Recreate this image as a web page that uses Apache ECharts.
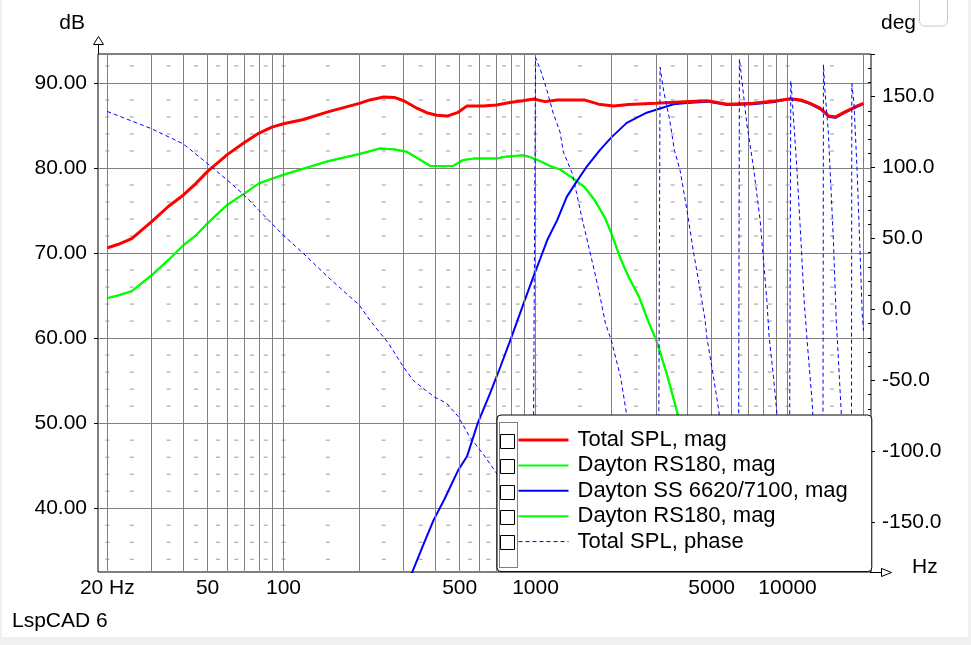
<!DOCTYPE html>
<html>
<head>
<meta charset="utf-8">
<script src="https://cdn.jsdelivr.net/npm/echarts@6/dist/echarts.min.js"></script>
<style>
html, body { margin: 0; padding: 0; background: #ffffff; }
#chart { width: 971px; height: 645px; }
</style>
</head>
<body>
<div id="chart"></div>
<script>
var totalSplMag = [
    [20, 70.6], [22, 71.0], [25, 71.7], [30, 73.7], [35, 75.5], [40, 76.8], [45, 78.2], [50, 79.6],
    [60, 81.6], [70, 83.0], [80, 84.1], [90, 84.8], [100, 85.2], [120, 85.7], [150, 86.6], [200, 87.6],
    [220, 88.0], [250, 88.35], [275, 88.3], [300, 87.9], [340, 87.0], [370, 86.5], [405, 86.2], [445, 86.1], [490, 86.5],
    [535, 87.3], [620, 87.3], [700, 87.4], [790, 87.7], [890, 87.9], [985, 88.1], [1090, 87.8], [1220, 88.0],
    [1400, 88.0], [1560, 88.0], [1780, 87.5], [2040, 87.3], [2340, 87.45], [3010, 87.6], [3900, 87.8],
    [4800, 87.9], [5770, 87.5], [7290, 87.6], [9060, 87.9], [10240, 88.15], [11300, 88.0], [12300, 87.6],
    [13500, 87.0], [14600, 86.1], [15500, 86.0], [16900, 86.6], [18600, 87.2], [20000, 87.6]
];
var rs180Mag = [
    [20, 64.7], [22, 65.0], [25, 65.5], [30, 67.4], [35, 69.2], [40, 70.9], [45, 72.1], [50, 73.5],
    [60, 75.7], [70, 77.0], [80, 78.2], [100, 79.2], [150, 80.8], [200, 81.65], [241, 82.3], [273, 82.2],
    [309, 81.9], [349, 80.95], [382, 80.25], [433, 80.2], [471, 80.25], [517, 80.95], [566, 81.1],
    [700, 81.1], [744, 81.3], [893, 81.5], [948, 81.3], [1043, 80.8], [1148, 80.2], [1256, 79.8],
    [1418, 78.7], [1560, 77.8], [1718, 76.2], [1890, 74.1], [2000, 72.3], [2170, 69.4], [2340, 67.2],
    [2570, 64.9], [2820, 61.75], [3010, 59.8], [3310, 55.9], [3640, 51.4], [4000, 47.0], [4500, 41.0]
];
var ss6620Mag = [
    [300, 30.0], [327, 32.75], [360, 35.8], [394, 38.6], [434, 41.0], [494, 44.5], [535, 46.1],
    [590, 50.0], [660, 53.5], [725, 56.6], [800, 60.0], [900, 64.2], [980, 67.2], [1043, 69.3],
    [1112, 71.5], [1220, 73.9], [1330, 76.6], [1456, 78.4], [1600, 80.2], [1800, 82.1], [2000, 83.6],
    [2300, 85.3], [2760, 86.5], [3120, 87.0], [3530, 87.5], [3990, 87.65], [4800, 87.8], [5770, 87.4],
    [7290, 87.5], [9060, 87.8], [10240, 88.1], [11300, 87.9], [12300, 87.5], [13500, 86.9],
    [14600, 86.0], [15500, 85.9], [16900, 86.5], [18600, 87.1], [20000, 87.5]
];
var totalSplPhase = [
    [20, 139.5], [30, 127.3], [40, 116.7], [50, 102.7], [60, 91.0], [70, 80.4], [80, 69.8], [90, 60.5],
    [100, 52.2], [120, 39.4], [150, 22.9], [200, 3.0], [220, -7.5], [261, -23.9], [299, -40.4],
    [326, -49.7], [358, -55.6], [399, -61.9], [444, -66.1], [494, -75.5], [547, -89.6], [616, -101.3],
    [700, -115.3], [800, -135], [900, -160], [975, -183],
    [1000, 177.6], [1050, 168], [1112, 154], [1172, 139], [1251, 125], [1290, 111], [1400, 95.6],
    [1457, 81.6], [1525, 65.1], [1650, 39.4], [1780, 14], [1894, -9.8], [2000, -22], [2174, -47.4],
    [2300, -74.3], [2500, -110], [2800, -150], [3070, -183],
    [3120, 170.6], [3224, 154], [3410, 133], [3560, 112], [3746, 98], [3990, 70], [4220, 42],
    [4500, 13.6], [4708, -7.5], [4780, -19.3], [5082, -47.4], [5330, -70.8], [5700, -120], [6100, -160],
    [6380, -183],
    [6442, 176.5], [6892, 130.8], [7322, 100.3], [7784, 62.8], [8274, 6.5], [8450, -19.3], [8790, -47.4],
    [9070, -73], [9600, -130], [10150, -183],
    [10300, 161], [10400, 152], [10880, 100.3], [11340, 44], [11630, 6.5], [11950, -21.6], [12500, -63.8],
    [12600, -74.3], [13200, -140], [13800, -183],
    [13880, 172.5], [14050, 155.4], [14500, 126], [15200, 48.7], [15600, -7.5], [15760, -21.6],
    [16350, -74.3], [17100, -150], [17900, -183],
    [17990, 159], [18350, 145], [18870, 98], [19170, 65], [19780, -3], [20000, -15]
];

var legendNames = ['Total SPL, mag', 'Dayton RS180, mag', 'Dayton SS 6620/7100, mag', 'Dayton RS180, mag ', 'Total SPL, phase'];

var gridFreqs = [20, 30, 40, 50, 60, 70, 80, 90, 100, 200, 300, 400, 500, 600, 700, 800, 900,
    1000, 2000, 3000, 4000, 5000, 6000, 7000, 8000, 9000, 10000, 20000];
var freqLabels = [20, 50, 100, 500, 1000, 5000, 10000];
var minorFreqs = [20, 25, 35, 45, 55, 65, 75, 85, 100, 150, 250, 350, 450, 550, 650, 750, 850,
    1000, 1500, 2500, 3500, 4500, 5500, 6500, 7500, 8500, 10000, 15000];
var minorLevels = [34, 36, 38, 42, 44, 46, 48, 52, 54, 56, 58, 62, 64, 66, 68, 72, 74, 76, 78,
    82, 84, 86, 88, 92];

var FONT = "'Liberation Sans', Arial, sans-serif";

var minorDots = [];
minorFreqs.forEach(function (f) {
    minorLevels.forEach(function (l) { minorDots.push([f, l]); });
});

var gridMarks = gridFreqs.map(function (f) {
    return {
        xAxis: f,
        label: {
            show: freqLabels.indexOf(f) >= 0,
            position: 'start',
            distance: 6,
            formatter: f === 20 ? '20 Hz' : String(f),
            color: '#000',
            fontSize: 21,
            fontFamily: FONT
        }
    };
});

function lineSeries(name, data, color, width, z, extra) {
    var s = {
        name: name,
        type: 'line',
        data: data,
        symbol: 'none',
        showSymbol: false,
        z: z,
        lineStyle: { color: color, width: width },
        itemStyle: { color: color },
        emphasis: { disabled: true }
    };
    for (var k in extra) s[k] = extra[k];
    return s;
}

// legend row positions (check boxes sit left of the legend lines)
var rowTop = 440.7, rowStep = 25.4;
var legendDecor = [{
    type: 'rect', z: 100,
    shape: { x: 499.5, y: 422.5, width: 18, height: 145 },
    style: { fill: 'none', stroke: '#000', lineWidth: 1, lineDash: [1, 1] }
}];
legendNames.forEach(function (n, i) {
    legendDecor.push({
        type: 'rect', z: 101,
        shape: { x: 500.5, y: Math.round(rowTop + i * rowStep - 7) + 0.5, width: 14, height: 14 },
        style: { fill: '#fff', stroke: '#000', lineWidth: 1 }
    });
});

var option = {
    animation: false,
    backgroundColor: '#ffffff',
    grid: {
        left: 98, right: 100, top: 54, bottom: 73,
        show: true, borderColor: '#000', borderWidth: 1, backgroundColor: 'transparent'
    },
    legend: {
        orient: 'vertical',
        z: 20,
        left: 497, top: 415,
        padding: [14, 24, 19, 20],
        itemGap: 3.4,
        itemWidth: 50,
        itemHeight: 14,
        selectedMode: false,
        backgroundColor: '#fff',
        borderColor: '#000',
        borderWidth: 1,
        borderRadius: 4,
        itemStyle: { opacity: 0 },
        lineStyle: { width: 'inherit' },
        textStyle: { fontSize: 22, lineHeight: 22, color: '#000', fontFamily: FONT, padding: [0, 0, 0, 4] },
        data: legendNames
    },
    xAxis: {
        type: 'log',
        logBase: 10,
        min: 18.37,
        max: 21430,
        axisLine: { show: false },
        axisTick: { show: false },
        axisLabel: { show: false },
        splitLine: { show: false }
    },
    yAxis: [{
        type: 'value',
        min: 32.5,
        max: 93.4,
        position: 'left',
        axisLine: { show: false },
        axisTick: { show: true, length: 4, lineStyle: { color: '#000' } },
        axisLabel: {
            margin: 11, fontSize: 21, color: '#000', fontFamily: FONT,
            showMinLabel: false, showMaxLabel: false,
            formatter: function (v) { return v.toFixed(2); }
        },
        splitLine: { show: true, showMinLine: false, showMaxLine: false, lineStyle: { color: '#808080', width: 1 } }
    }, {
        type: 'value',
        min: -185,
        max: 180,
        splitNumber: 7,
        position: 'right',
        axisLine: { show: false },
        axisTick: { show: true, length: 4, lineStyle: { color: '#000' } },
        minorTick: { show: true, splitNumber: 5, length: -3, lineStyle: { color: '#000' } },
        axisLabel: {
            margin: 11, fontSize: 21, color: '#000', fontFamily: FONT,
            showMinLabel: false, showMaxLabel: false,
            formatter: function (v) { return v.toFixed(1); }
        },
        splitLine: { show: false }
    }],
    series: [
        {
            name: 'grid', type: 'line', data: [], z: 1, silent: true,
            markLine: {
                silent: true, symbol: ['none', 'none'], animation: false,
                lineStyle: { color: '#808080', width: 1, type: 'solid' },
                emphasis: { disabled: true },
                data: gridMarks
            }
        },
        {
            name: 'minor', type: 'scatter', data: minorDots, z: 1, silent: true,
            symbol: 'rect', symbolSize: [4, 1],
            itemStyle: { color: '#808080' }
        },
        lineSeries(legendNames[0], totalSplMag, '#ff0000', 3, 6),
        lineSeries(legendNames[1], rs180Mag, '#00ff00', 2, 3),
        lineSeries(legendNames[2], ss6620Mag, '#0000ff', 2, 4),
        lineSeries(legendNames[3], rs180Mag, '#00ff00', 2, 3),
        lineSeries(legendNames[4], totalSplPhase, '#0000ff', 1, 7, { yAxisIndex: 1 })
    ],
    graphic: [
        // window frame strips
        { type: 'rect', z: 0, shape: { x: 0, y: 0, width: 2, height: 645 }, style: { fill: '#f0f0f0' } },
        { type: 'rect', z: 0, shape: { x: 968, y: 0, width: 3, height: 645 }, style: { fill: '#f0f0f0' } },
        { type: 'rect', z: 0, shape: { x: 0, y: 637, width: 971, height: 8 }, style: { fill: '#f0f0f0' } },
        { type: 'rect', z: 0, shape: { x: 919.5, y: -6, width: 28, height: 32, r: 5 }, style: { fill: '#fff', stroke: '#c8c8c8', lineWidth: 1 } },
        // axis arrows
        { type: 'line', z: 50, shape: { x1: 98.5, y1: 44, x2: 98.5, y2: 54 }, style: { stroke: '#000', lineWidth: 1 } },
        { type: 'polygon', z: 50, shape: { points: [[98.5, 36.5], [93.5, 44.5], [103.5, 44.5]] }, style: { fill: '#fff', stroke: '#000', lineWidth: 1 } },
        { type: 'line', z: 50, shape: { x1: 870, y1: 572.5, x2: 881, y2: 572.5 }, style: { stroke: '#000', lineWidth: 1 } },
        { type: 'polygon', z: 50, shape: { points: [[881.5, 568.5], [881.5, 576.5], [891.5, 572.5]] }, style: { fill: '#fff', stroke: '#000', lineWidth: 1 } },
        // axis titles
        { type: 'text', z: 50, x: 85, y: 23, style: { text: 'dB', align: 'right', verticalAlign: 'middle', fontSize: 21, fontFamily: FONT, fill: '#000' } },
        { type: 'text', z: 50, x: 881, y: 23, style: { text: 'deg', align: 'left', verticalAlign: 'middle', fontSize: 21, fontFamily: FONT, fill: '#000' } },
        { type: 'text', z: 50, x: 912, y: 567, style: { text: 'Hz', align: 'left', verticalAlign: 'middle', fontSize: 21, fontFamily: FONT, fill: '#000' } },
        { type: 'text', z: 50, x: 12, y: 621, style: { text: 'LspCAD 6', align: 'left', verticalAlign: 'middle', fontSize: 21, fontFamily: FONT, fill: '#000' } }
    ].concat(legendDecor)
};

// phase trace is dashed
option.series[6].lineStyle.type = [4, 3];

var chart = echarts.init(document.getElementById('chart'));
chart.setOption(option);
</script>
</body>
</html>
